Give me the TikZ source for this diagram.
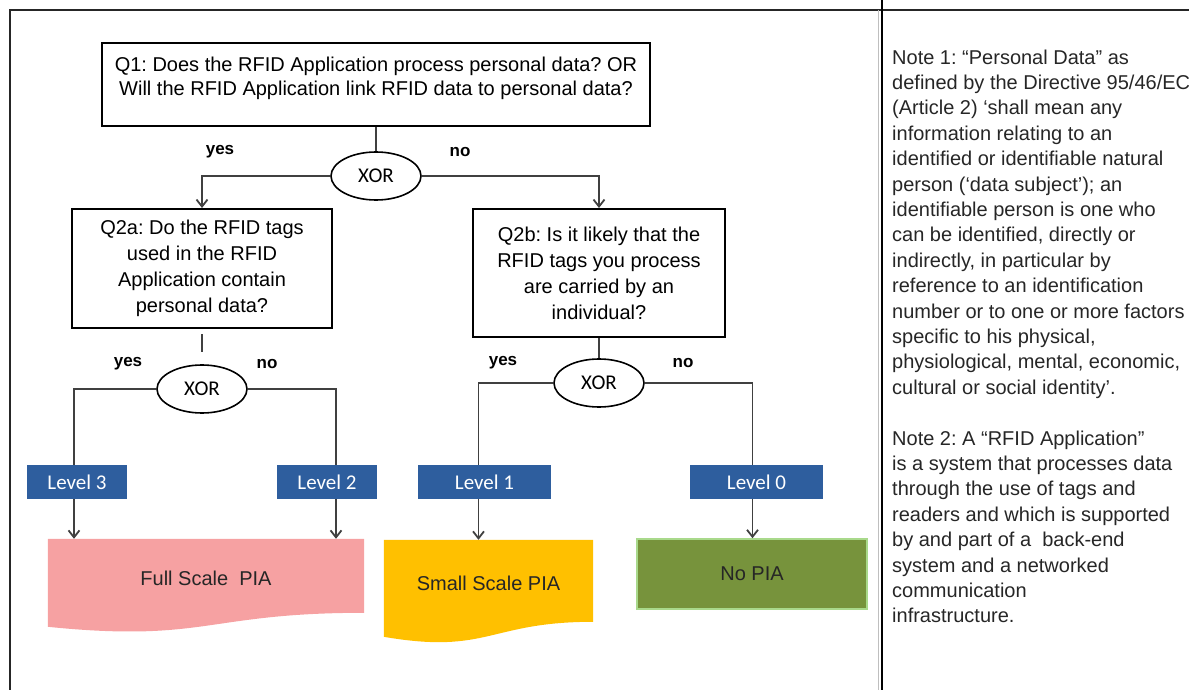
\documentclass[tikz,border=0pt]{standalone}
\usepackage{fontspec}
\setmainfont{Liberation Sans}
\newfontfamily\calibrifont{Carlito}
\usepackage{tikz}
\usetikzlibrary{shapes.geometric,arrows.meta,positioning,calc,backgrounds}
\definecolor{levelblue}{HTML}{2E5E9E}
\definecolor{fullpink}{HTML}{F6A1A2}
\definecolor{smallyellow}{HTML}{FFC000}
\definecolor{nogreen}{HTML}{77933C}
\definecolor{noborder}{HTML}{A9D98B}
\tikzstyle{qbox}=[draw, line width=2pt, align=center, inner sep=0pt, font=\fontsize{20}{26}\selectfont]
\tikzstyle{xor}=[draw, ellipse, line width=1.6pt, minimum width=90pt, minimum height=48pt, inner sep=0pt, font=\calibrifont\fontsize{21}{24}\selectfont]
\tikzstyle{level}=[fill=levelblue, text=white, minimum height=34pt, inner sep=0pt, font=\calibrifont\fontsize{21}{24}\selectfont]
\tikzstyle{result}=[inner sep=0pt, text=black!85, font=\fontsize{20}{24}\selectfont]
\tikzstyle{answer}=[font=\bfseries\fontsize{17}{20}\selectfont]
\tikzstyle{link}=[line width=1.8pt, draw=black!75]
\tikzstyle{arrow}=[link, ->, >={Straight Barb[length=7pt,width=11pt]}]
\frenchspacing

\begin{document}
\begin{tikzpicture}[x=1pt,y=1pt]
\useasboundingbox (0,0) rectangle (1189,-690);
% frame
\draw[line width=2pt, black!85] (10,-690) -- (10,-10) -- (1189,-10);
\draw[black!25, line width=1pt] (878,-10) -- (878,-690);
\draw[line width=2pt] (882,0) -- (882,-690);

\node (q1) [qbox, minimum width=548pt, inner ysep=4pt, text height=49pt, text depth=26pt,
font=\fontsize{20}{24}\selectfont] at (376,-84.5)
{Q1: Does the RFID Application process personal data? OR\\Will the RFID Application link RFID data to personal data?};
\node (xor1) [xor] at (376,-176) {XOR};
\node (q2a) [qbox, minimum width=260pt, minimum height=119pt] at (202,-268.5)
{Q2a: Do the RFID tags\\used in the RFID\\Application contain\\personal data?};
\node (q2b) [qbox, minimum width=252pt, minimum height=128pt] at (599,-273)
{Q2b: Is it likely that the\\RFID tags you process\\are carried by an\\individual?};
\node (xor2) [xor] at (202,-389) {XOR};
\node (xor3) [xor] at (599,-383) {XOR};

\node (lev3) [level, minimum width=100pt] at (77,-482) {Level 3};
\node (lev2) [level, minimum width=100pt] at (327,-482) {Level 2};
\node (lev1) [level, minimum width=133pt] at (484.5,-482) {Level 1};
\node (lev0) [level, minimum width=133pt] at (756.5,-482) {Level 0};

\node (full) [result, minimum width=316pt, minimum height=78pt] at (206,-578) {Full Scale~ PIA};
\node (small) [result, minimum width=209pt, minimum height=86pt] at (488.5,-583) {Small Scale PIA};
\node (nopia) [result, minimum width=230pt, minimum height=70pt, fill=nogreen,
draw=noborder, line width=1.5pt] at (752,-574) {No PIA};
\begin{scope}[on background layer]
\fill[fullpink] (full.north west) -- (full.north east) -- ($(full.north east)+(0,-74)$)
.. controls ($(full.north)+(0,-74)$) and ($(full.north)+(0,-104)$) .. ($(full.north west)+(0,-88)$) -- cycle;
\fill[smallyellow] (small.north west) -- (small.north east) -- ($(small.north east)+(0,-82)$)
.. controls ($(small.north)+(0,-82)$) and ($(small.north)+(0,-115)$) .. ($(small.north west)+(0,-97)$) -- cycle;
\end{scope}

\node (yes1) [answer] at (220,-152) {yes};
\node (no1) [answer] at (460,-152) {no};
\node (yes2) [answer] at (128,-364) {yes};
\node (no2) [answer] at (267,-364) {no};
\node (yes3) [answer] at (503,-363) {yes};
\node (no3) [answer] at (683,-363) {no};

\draw[link] (q1) -- (xor1);
\draw[arrow] (xor1) -| (q2a);
\draw[arrow] (xor1) -| (q2b);
\draw[link, shorten <=5pt, shorten >=12pt] (q2a) -- (xor2);
\draw[link] (q2b) -- (xor3);

\draw[link] (xor2) -| ([xshift=-3pt]lev3.north);
\draw[link] (xor2) -| ([xshift=9pt]lev2.north);
\draw[link] (xor3) -| ([xshift=-6pt]lev1.north);
\draw[link] (xor3) -| ([xshift=-4pt]lev0.north);

\draw[arrow] ([xshift=-3pt]lev3.south) -- ([xshift=-3pt]lev3.south |- full.north);
\draw[arrow] ([xshift=9pt]lev2.south) -- ([xshift=9pt]lev2.south |- full.north);
\draw[arrow] ([xshift=-6pt]lev1.south) -- ([xshift=-6pt]lev1.south |- small.north);
\draw[arrow] ([xshift=-4pt]lev0.south) -- ([xshift=-4pt]lev0.south |- nopia.north);

\node (notes) [anchor=north west, align=left, inner sep=0pt, text=black!85,
font=\fontsize{20}{25.4}\selectfont] at (892,-49.5)
{Note 1: “Personal Data” as\\
defined by the Directive 95/46/EC\\
(Article 2) ‘shall mean any\\
information relating to an\\
identified or identifiable natural\\
person (‘data subject’); an\\
identifiable person is one who\\
can be identified, directly or\\
indirectly, in particular by\\
reference to an identification\\
number or to one or more factors\\
specific to his physical,\\
physiological, mental, economic,\\
cultural or social identity’.\\[25.4pt]
Note 2: A “RFID Application”\\
is a system that processes data\\
through the use of tags and\\
readers and which is supported\\
by and part of a~ back-end\\
system and a networked\\
communication\\
infrastructure.};
\end{tikzpicture}
\end{document}
